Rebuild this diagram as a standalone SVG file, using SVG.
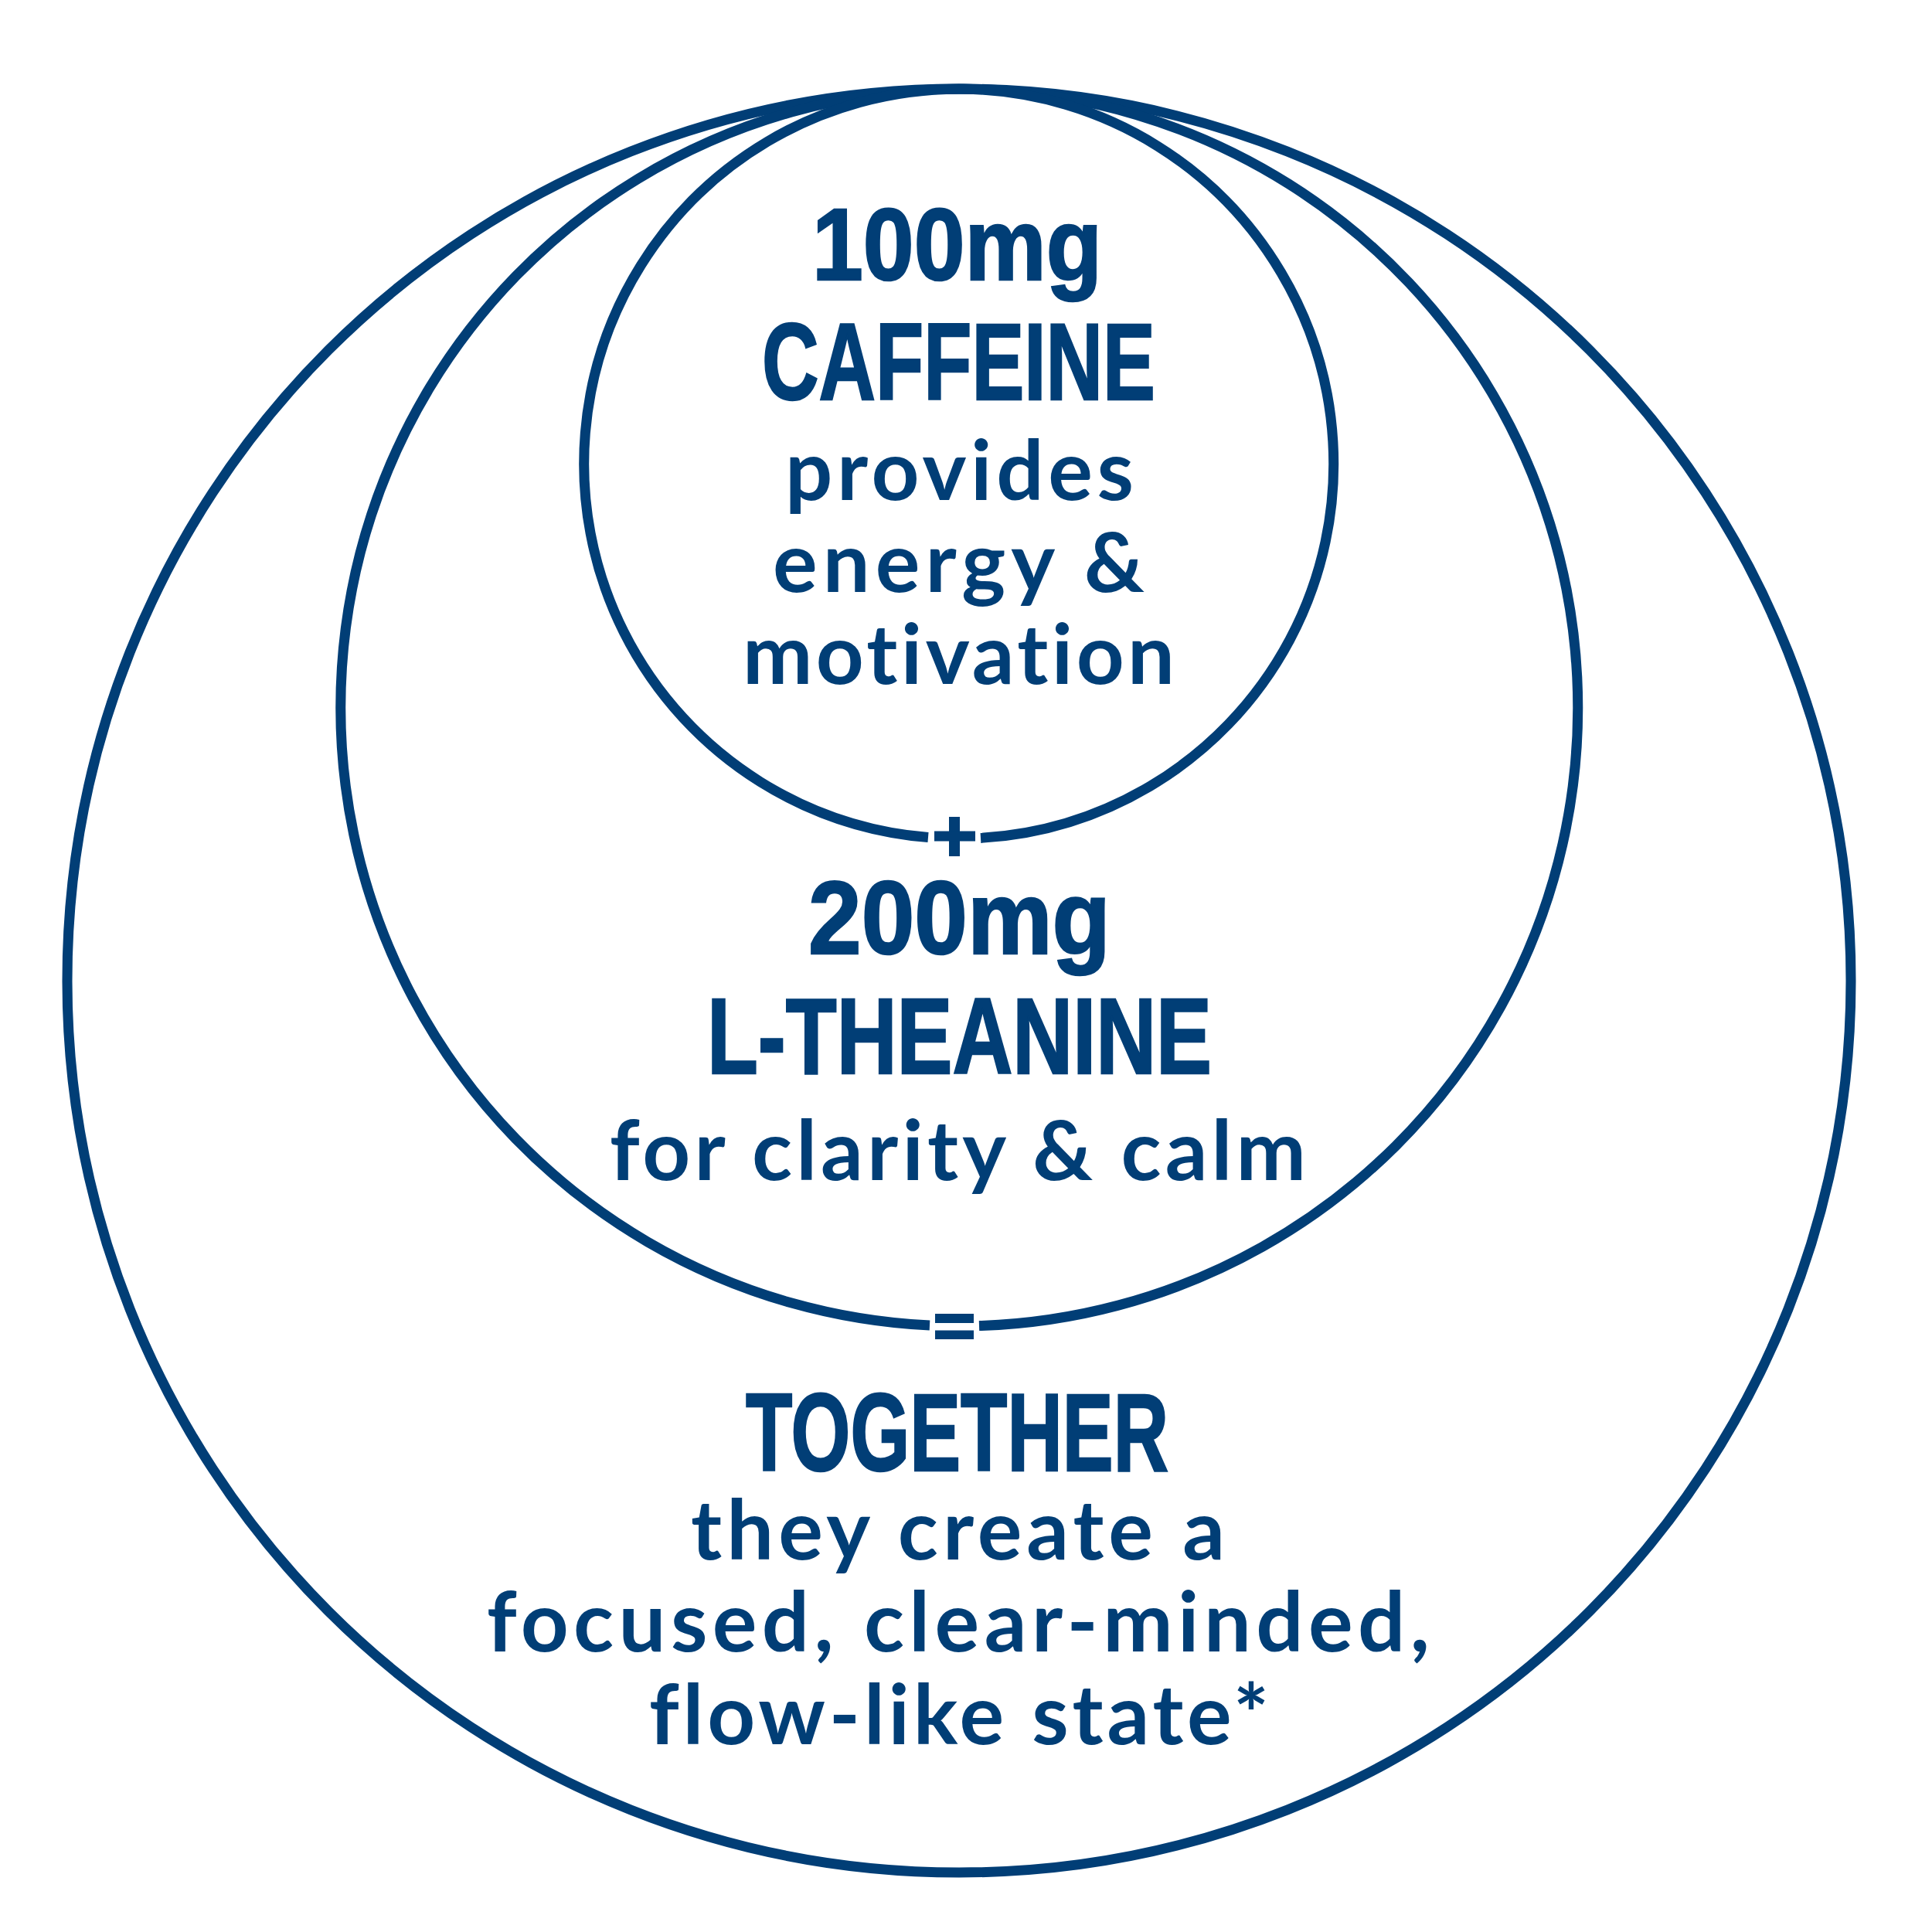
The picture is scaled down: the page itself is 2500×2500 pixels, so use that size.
<svg xmlns="http://www.w3.org/2000/svg" width="2500" height="2500" viewBox="0 0 2500 2500">
<style>
.ring{fill:none;stroke:#013e76;stroke-width:13;stroke-linecap:butt}
.sym{fill:#013e76}
.hd{font-family:"Liberation Sans Narrow","Liberation Sans",Arial,sans-serif;font-weight:700;fill:#013e76;stroke:#013e76;stroke-width:2.5;stroke-linejoin:miter}
.bd{font-family:Lato,"Noto Sans",sans-serif;font-weight:700;font-size:108px;fill:#013e76;font-variant-ligatures:none;font-feature-settings:"liga" 0,"clig" 0,"dlig" 0}
</style>
<rect width="2500" height="2500" fill="#ffffff"/>
<g id="outer-circle">
<circle class="ring" cx="1241" cy="1269" r="1154"/>
<text class="hd" x="965" y="1903" font-size="142" textLength="547" lengthAdjust="spacingAndGlyphs">TOGETHER</text>
<text class="bd" x="894" y="2018" textLength="691" lengthAdjust="spacing">they create a</text>
<text class="bd" x="630" y="2137" textLength="1220" lengthAdjust="spacing">focused, clear-minded,</text>
<text class="bd" x="840" y="2257" textLength="802" lengthAdjust="spacing">flow-like state*</text>
</g>
<g id="middle-circle">
<path class="ring" d="M 1203 1715.1 A 800.5 800.5 0 1 1 1267 1715.6"/>
<text class="hd" x="1046" y="1234" font-size="133" textLength="391" lengthAdjust="spacingAndGlyphs">200mg</text>
<text class="hd" x="915" y="1389" font-size="140" textLength="653" lengthAdjust="spacingAndGlyphs">L-THEANINE</text>
<text class="bd" x="789" y="1527" textLength="901" lengthAdjust="spacing">for clarity &amp; calm</text>
</g>
<g id="inner-circle">
<path class="ring" d="M 1201 1083.6 A 485 485 0 1 1 1269 1084.4"/>
<text class="hd" x="1051" y="362" font-size="131" textLength="375" lengthAdjust="spacingAndGlyphs">100mg</text>
<text class="hd" x="986" y="517" font-size="141" textLength="509" lengthAdjust="spacingAndGlyphs">CAFFEINE</text>
<text class="bd" x="1016" y="647" textLength="451" lengthAdjust="spacing">provides</text>
<text class="bd" x="1000" y="766" textLength="481" lengthAdjust="spacing">energy &amp;</text>
<text class="bd" x="961" y="885" textLength="559" lengthAdjust="spacing">motivation</text>
</g>
<g id="connectors">
<g id="plus">
<rect class="sym" x="1228" y="1057" width="14" height="51"/>
<rect class="sym" x="1209" y="1075.5" width="53" height="13"/>
</g>
<g id="equals">
<rect class="sym" x="1210" y="1700" width="50" height="12"/>
<rect class="sym" x="1210" y="1721.5" width="50" height="11.5"/>
</g>
</g>
</svg>
